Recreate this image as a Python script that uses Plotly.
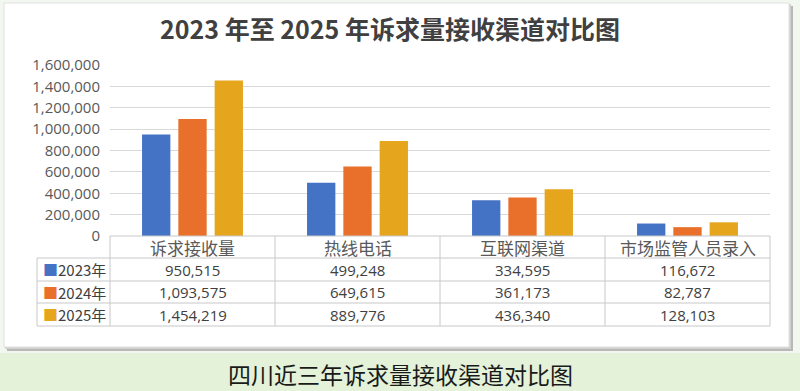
import plotly.graph_objects as go

# ---------------- data ----------------
categories = ["诉求接收量", "热线电话", "互联网渠道", "市场监管人员录入"]
years = ["2023年", "2024年", "2025年"]
values_2023 = [950515, 499248, 334595, 116672]
values_2024 = [1093575, 649615, 361173, 82787]
values_2025 = [1454219, 889776, 436340, 128103]
y_tick_values = [0, 200000, 400000, 600000, 800000, 1000000, 1200000, 1400000, 1600000]
title_text = "2023 年至 2025 年诉求量接收渠道对比图"
caption_text = "四川近三年诉求量接收渠道对比图"

series = [values_2023, values_2024, values_2025]
colors = ["#4472C4", "#E8702A", "#E5A61E"]

# ---------------- geometry (pixels) ----------------
W, H = 800, 391
L, R, T, B = 110, 30, 65, 155
PW, PH = W - L - R, H - T - B


def px(x):
    return (x - L) / PW


def py(y):
    return (H - B - y) / PH


fig = go.Figure()
for name, vals, col in zip(years, series, colors):
    fig.add_trace(go.Bar(x=categories, y=vals, name=name, marker_color=col,
                         marker_line_width=0, hoverinfo="x+y+name"))

shapes = []
# background card shadow + card
shapes.append(dict(type="rect", xref="paper", yref="paper", x0=px(7), x1=px(793), y0=py(351), y1=py(6),
                   fillcolor="#b8b8b8", line_width=0, layer="below"))
shapes.append(dict(type="rect", xref="paper", yref="paper", x0=px(5), x1=px(791), y0=py(349), y1=py(4),
                   fillcolor="#d0d0d0", line_width=0, layer="below"))
shapes.append(dict(type="rect", xref="paper", yref="paper", x0=px(4), x1=px(789), y0=py(347), y1=py(3),
                   fillcolor="white", line=dict(color="#e0e0e0", width=1), layer="below"))
# green strip at bottom
shapes.append(dict(type="rect", xref="paper", yref="paper", x0=px(0), x1=px(800), y0=py(391), y1=py(353),
                   fillcolor="#e3f2d8", line_width=0, layer="below"))

# ---------------- data table ----------------
n = len(categories)
col_w = 1.0 / n
row_tops = [236, 258, 281, 303, 326]
grid_col = "#c8c8c8"
# horizontal lines
shapes.append(dict(type="line", xref="paper", yref="paper", x0=0, x1=1, y0=py(row_tops[0]), y1=py(row_tops[0]),
                   line=dict(color=grid_col, width=1)))
for yy in row_tops[1:]:
    shapes.append(dict(type="line", xref="paper", yref="paper", x0=px(37), x1=1, y0=py(yy), y1=py(yy),
                       line=dict(color=grid_col, width=1)))
# vertical lines
shapes.append(dict(type="line", xref="paper", yref="paper", x0=px(37), x1=px(37), y0=py(row_tops[1]),
                   y1=py(row_tops[-1]), line=dict(color=grid_col, width=1)))
for i in range(n + 1):
    shapes.append(dict(type="line", xref="paper", yref="paper", x0=i * col_w, x1=i * col_w,
                       y0=py(row_tops[0]), y1=py(row_tops[-1]), line=dict(color=grid_col, width=1)))

annotations = []
# header row
for i, c in enumerate(categories):
    annotations.append(dict(x=(i + 0.5) * col_w, y=py((row_tops[0] + row_tops[1]) / 2), xref="paper", yref="paper",
                            text=c, showarrow=False, xanchor="center", yanchor="middle",
                            font=dict(family="Noto Sans CJK SC", size=17, color="#595959")))
# data rows
for r, (name, vals, col) in enumerate(zip(years, series, colors)):
    yc = py((row_tops[r + 1] + row_tops[r + 2]) / 2)
    annotations.append(dict(x=px(41), y=yc, xref="paper", yref="paper",
                            text=f"<span style='color:{col}'>■</span>{name}", showarrow=False,
                            xanchor="left", yanchor="middle",
                            font=dict(family="Noto Sans CJK SC", size=15, color="#404040")))
    for i, v in enumerate(vals):
        annotations.append(dict(x=(i + 0.5) * col_w, y=yc, xref="paper", yref="paper",
                                text=f"{v:,}", showarrow=False, xanchor="center", yanchor="middle",
                                font=dict(family="Open Sans", size=15, color="#404040")))

# caption
annotations.append(dict(x=px(400), y=py(374), xref="paper", yref="paper", text=caption_text, showarrow=False,
                        xanchor="center", yanchor="middle",
                        font=dict(family="Noto Sans CJK SC", size=23, color="#1a1a1a")))

fig.update_layout(
    width=W, height=H,
    margin=dict(l=L, r=R, t=T, b=B),
    paper_bgcolor="#f2f7ef",
    plot_bgcolor="rgba(0,0,0,0)",
    showlegend=False,
    barmode="group",
    bargap=0.34,
    bargroupgap=0.22,
    title=dict(text=title_text, x=0.4875, xref="container", xanchor="center",
               y=1 - 30 / H, yref="container", yanchor="middle",
               font=dict(family="Noto Sans CJK SC", size=25, color="#404040", weight="bold")),
    xaxis=dict(showticklabels=False, showgrid=False, showline=False, ticks=""),
    yaxis=dict(range=[0, 1600000], tickvals=y_tick_values,
               ticktext=[f"{v:,}" for v in y_tick_values],
               showgrid=True, gridcolor="#d9d9d9", gridwidth=1, zeroline=False,
               ticks="", ticklabelstandoff=9,
               tickfont=dict(family="Open Sans", size=15, color="#595959")),
    shapes=shapes,
    annotations=annotations,
)

fig.write_html("out.html", config={"displayModeBar": False},
               post_script="document.body.style.margin='0';document.body.style.overflow='hidden';")
